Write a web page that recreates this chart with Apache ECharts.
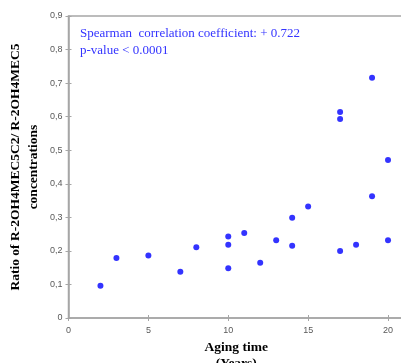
<!DOCTYPE html>
<html>
<head>
<meta charset="utf-8">
<script src="https://cdn.jsdelivr.net/npm/echarts@6/dist/echarts.min.js"></script>
<style>html,body{margin:0;padding:0;background:#fff;}#chart{width:401px;height:363px;}</style>
</head>
<body>
<div id="chart"></div>
<script>
var agingYears = [2, 3, 5, 7, 8, 10, 10, 10, 11, 12, 13, 14, 14, 15, 17, 17, 17, 18, 19, 19, 20, 20];
var ratioValues = [0.096, 0.179, 0.186, 0.138, 0.211, 0.243, 0.218, 0.148, 0.253, 0.165, 0.232, 0.299, 0.215, 0.332, 0.200, 0.614, 0.593, 0.218, 0.363, 0.716, 0.232, 0.471];
var yTickLabels = ['0', '0,1', '0,2', '0,3', '0,4', '0,5', '0,6', '0,7', '0,8', '0,9'];
var annotationLines = ['Spearman  correlation coefficient: + 0.722', 'p-value < 0.0001'];

var points = agingYears.map(function (x, i) { return [x, ratioValues[i]]; });
var axisGray = '#a6a6a6';
var labelStyle = { color: '#595959', fontSize: 9, fontFamily: 'Liberation Sans, Arial, sans-serif' };

var chart = echarts.init(document.getElementById('chart'), null, { renderer: 'canvas' });
chart.setOption({
  animation: false,
  grid: { left: 68.5, top: 16, right: -3, bottom: 45, show: true, borderColor: axisGray, borderWidth: 1.5, containLabel: false, outerBoundsMode: 'none' },
  xAxis: [{
    type: 'value', min: 0, max: 21, interval: 5,
    axisLine: { show: true, lineStyle: { color: axisGray, width: 1.5 } },
    axisTick: { show: true, inside: false, length: 3, lineStyle: { color: axisGray } },
    splitLine: { show: false },
    axisLabel: Object.assign({ margin: 8, showMaxLabel: false, formatter: function (v) { return v % 5 === 0 ? String(v) : ''; } }, labelStyle),
    name: 'Aging time\n(Years)', nameLocation: 'middle', nameGap: 17,
    nameTextStyle: { fontFamily: 'Liberation Serif, Times New Roman, serif', fontWeight: 'bold', fontSize: 13.5, color: '#000', lineHeight: 16, verticalAlign: 'top' }
  }, {
    type: 'value', min: 0, max: 21, interval: 5, position: 'bottom',
    axisLine: { show: false }, axisLabel: { show: false }, splitLine: { show: false },
    axisTick: { show: true, inside: true, length: 3, lineStyle: { color: axisGray } }
  }],
  yAxis: [{
    type: 'value', min: 0, max: 0.9, interval: 0.1,
    axisLine: { show: true, lineStyle: { color: axisGray, width: 1.5 } },
    axisTick: { show: true, inside: false, length: 3, lineStyle: { color: axisGray } },
    splitLine: { show: false },
    axisLabel: Object.assign({ margin: 6, formatter: function (v) { return yTickLabels[Math.round(v * 10)]; } }, labelStyle),
    name: 'Ratio of R-2OH4MEC5C2/ R-2OH4MEC5\nconcentrations', nameLocation: 'middle', nameGap: 26, nameRotate: 90, nameMoveOverlap: false,
    nameTextStyle: { fontFamily: 'Liberation Serif, Times New Roman, serif', fontWeight: 'bold', fontSize: 13.5, color: '#000', lineHeight: 18 }
  }, {
    type: 'value', min: 0, max: 0.9, interval: 0.1, position: 'left',
    axisLine: { show: false }, axisLabel: { show: false }, splitLine: { show: false },
    axisTick: { show: true, inside: true, length: 3, lineStyle: { color: axisGray } }
  }],
  graphic: [{
    type: 'text', left: 80, top: 25,
    style: { text: annotationLines.join('\n'), fill: '#3333ff', font: '13px "Liberation Serif", "Times New Roman", serif', lineHeight: 17 }
  }],
  series: [{
    type: 'scatter', xAxisIndex: 0, yAxisIndex: 0,
    data: points, symbol: 'circle', symbolSize: 6,
    itemStyle: { color: '#0000ff' }
  }]
});
</script>
</body>
</html>
